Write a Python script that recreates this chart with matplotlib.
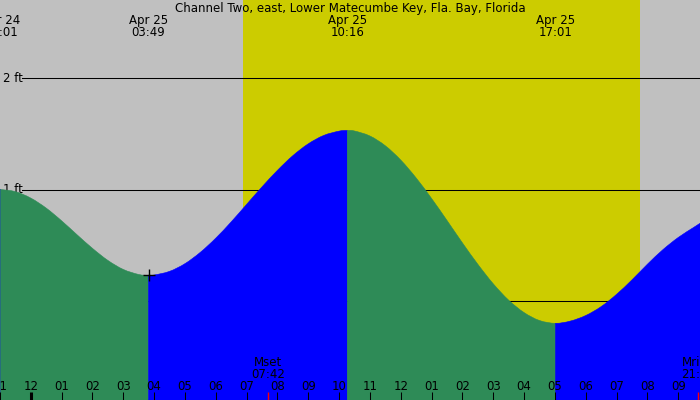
import numpy as np
import matplotlib.pyplot as plt
from matplotlib.path import Path
from matplotlib.patches import PathPatch
from matplotlib.transforms import blended_transform_factory

# station and tide data (hours relative to Apr 25 00:00)
title = "Channel Two, east, Lower Matecumbe Key, Fla. Bay, Florida"

extreme_hours = [-0.983, 3.817, 10.267, 17.017]
extreme_ft = [1.0, 0.23, 1.53, -0.2]
extreme_days = ["Apr 24", "Apr 25", "Apr 25", "Apr 25"]
extreme_times = ["23:01", "03:49", "10:16", "17:01"]

curve_hours = [-1.0, -0.983, -0.5, 0.0, 0.5, 1.0, 1.5, 2.0, 2.5, 3.0, 3.5, 3.817,
               4.0, 4.5, 5.0, 5.5, 6.0, 6.5, 7.0, 7.5, 8.0, 8.5, 9.0, 9.5, 10.0, 10.267,
               10.5, 11.0, 11.5, 12.0, 12.5, 13.0, 13.5, 14.0, 14.5, 15.0, 15.5, 16.0, 16.5, 17.017,
               17.5, 18.0, 18.5, 19.0, 19.5, 20.0, 20.5, 21.0, 21.5, 21.75]
curve_ft = [0.998, 1.0, 0.981, 0.923, 0.833, 0.719, 0.594, 0.472, 0.364, 0.283, 0.238, 0.23,
            0.233, 0.266, 0.335, 0.437, 0.564, 0.710, 0.867, 1.024, 1.172, 1.304, 1.410, 1.485, 1.524, 1.53,
            1.525, 1.480, 1.392, 1.264, 1.103, 0.919, 0.722, 0.521, 0.329, 0.154, 0.007, -0.104, -0.175, -0.2,
            -0.18, -0.13, -0.05, 0.06, 0.19, 0.33, 0.46, 0.57, 0.66, 0.705]

sunrise, sunset = 6.867, 19.744
moon_events = [("Mset", "07:42", 7.7), ("Mrise", "21:38", 21.633)]
grid_ft = [0, 1, 2]

bg = "#c0c0c0"
day_col = "#cccc00"
fall_col = "#2e8b57"
rise_col = "#0000ff"

fig = plt.figure(figsize=(7, 4), dpi=100, facecolor=bg)
ax = fig.add_axes([0, 0, 1, 1])
ax.set_facecolor(bg)
ax.set_axis_off()

x0, x1 = -1.0, 21.705
y0, y1 = -0.888, 2.70
ax.set_xlim(x0, x1)
ax.set_ylim(y0, y1)

# pixel row -> axes fraction
def fy(py):
    return 1 - py / 400.0

tr = blended_transform_factory(ax.transData, ax.transAxes)

ax.axvspan(sunrise, sunset, color=day_col, lw=0, zorder=0)

for g in grid_ft:
    ax.plot([x0 + 22 / 700 * (x1 - x0), x1], [g, g], color="black", lw=0.75, zorder=1)
    ax.text(x0 + 3 / 700 * (x1 - x0), g, f"{g} ft", ha="left", va="center",
            fontsize=8.5, zorder=1)

t = np.array(curve_hours)
h = np.array(curve_ft)
pts = np.column_stack([t, h])
n = len(pts)


def smooth_fill(i0, i1, color):
    # closed area under a smooth (catmull-rom) curve through points i0..i1
    verts = [(t[i0], y0), (t[i0], h[i0])]
    codes = [Path.MOVETO, Path.LINETO]
    for i in range(i0, i1):
        pm = pts[max(i - 1, 0)]
        p0, p1 = pts[i], pts[i + 1]
        p2 = pts[min(i + 2, n - 1)]
        c1 = p0 + (p1 - pm) / 6
        c2 = p1 - (p2 - p0) / 6
        verts += [tuple(c1), tuple(c2), tuple(p1)]
        codes += [Path.CURVE4] * 3
    verts += [(t[i1], y0), (t[i0], y0)]
    codes += [Path.LINETO, Path.CLOSEPOLY]
    ax.add_patch(PathPatch(Path(verts, codes), facecolor=color, edgecolor=color,
                           lw=0.4, zorder=2))


breaks = [0] + [curve_hours.index(e) for e in extreme_hours] + [n - 1]
for k in range(len(breaks) - 1):
    falling = k % 2 == 1
    smooth_fill(breaks[k], breaks[k + 1], fall_col if falling else rise_col)

# current low marker
ax.plot(extreme_hours[1], extreme_ft[1], marker="+", ms=9, mew=1, color="black", zorder=4)

ax.text(0.5, fy(12), title, transform=ax.transAxes, ha="center", va="baseline", fontsize=8.5)

for hr, d, s in zip(extreme_hours, extreme_days, extreme_times):
    ax.text(hr, fy(24.3), d, transform=tr, ha="center", va="baseline", fontsize=8.5)
    ax.text(hr, fy(36), s, transform=tr, ha="center", va="baseline", fontsize=8.5)

# hour ticks along the bottom
for hr in range(-1, 22):
    lw = 2.2 if hr == 0 else 0.75
    ax.plot([hr, hr], [fy(392), fy(400)], transform=tr, color="black", lw=lw,
            solid_capstyle="butt", zorder=3)
    lab = (hr % 12) or 12
    ax.text(hr, fy(390.5), f"{lab:02d}", transform=tr, ha="center", va="baseline",
            fontsize=8.5, zorder=3)

for name, s, hr in moon_events:
    ax.plot([hr, hr], [fy(392), fy(400)], transform=tr, color="red", lw=1,
            solid_capstyle="butt", zorder=3)
    ax.text(hr, fy(366), name, transform=tr, ha="center", va="baseline", fontsize=8.5, zorder=3)
    ax.text(hr, fy(378), s, transform=tr, ha="center", va="baseline", fontsize=8.5, zorder=3)

fig.savefig("out.png", dpi=100, facecolor=bg)
